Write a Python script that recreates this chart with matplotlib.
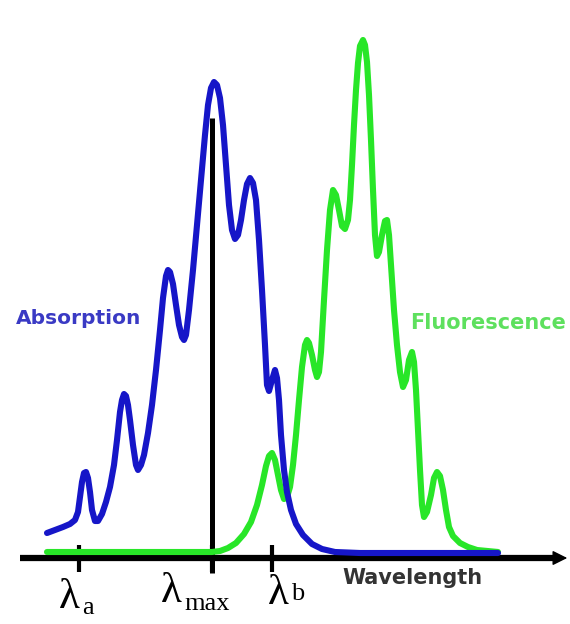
import numpy as np
import matplotlib.pyplot as plt

# Spectra read as (wavelength position, intensity above baseline)
abs_x = [47, 55, 63, 70, 75, 78, 80, 82, 84, 86, 88, 90, 92, 95, 98, 102, 106,
         110, 114, 117, 120, 122, 124, 126, 128, 130, 133, 136, 138, 141, 144,
         148, 152, 156, 160, 163, 166, 168, 170, 173, 176, 179, 182, 184, 186,
         189, 193, 197, 201, 205, 208, 211, 214, 217, 220, 223, 226, 229, 232,
         235, 238, 241, 244, 247, 250, 253, 256, 259, 262, 265, 267, 269, 272,
         275, 277, 279, 281, 284, 287, 291, 296, 303, 312, 322, 335, 360, 400,
         498]
abs_y = [24, 27, 30, 33, 37, 45, 60, 75, 84, 85, 79, 65, 47, 36, 36, 43, 55,
         70, 92, 117, 145, 157, 163, 161, 152, 137, 112, 92, 87, 92, 102,
         124, 152, 187, 227, 259, 281, 287, 285, 273, 252, 232, 220, 217, 222,
         247, 287, 332, 377, 422, 452, 469, 475, 472, 459, 432, 392, 352, 327,
         318, 322, 337, 357, 373, 379, 374, 357, 317, 267, 212, 172, 166, 177,
         187, 179, 157, 122, 87, 65, 47, 33, 22, 13, 8, 5, 4, 4,
         4]

fl_x = [47, 150, 212, 220, 228, 236, 244, 251, 257, 262, 266, 269, 272, 275,
        278, 281, 284, 287, 290, 293, 296, 299, 302, 305, 307, 309, 312, 315,
        317, 319, 321, 324, 327, 330, 333, 336, 339, 342, 345, 348, 350, 352,
        354, 356, 358, 360, 363, 365, 367, 369, 371, 373, 375, 377, 379, 382,
        385, 387, 389, 391, 394, 397, 400, 403, 406, 409, 412, 414, 416, 418,
        420, 422, 424, 427, 431, 434, 437, 440, 443, 446, 449, 453, 460, 468,
        477, 498]
fl_y = [5, 5, 5, 6, 9, 14, 23, 35, 52, 72, 91, 101, 104, 97,
        82, 67, 58, 60, 70, 92, 122, 157, 190, 212, 217, 214, 202, 187,
        180, 185, 205, 257, 307, 347, 367, 362, 347, 331, 328, 337, 357, 392,
        432, 467, 494, 511, 517, 512, 495, 462, 417, 367, 322, 301, 305, 322,
        336, 337, 322, 292, 247, 212, 185, 170, 177, 197, 205, 195, 167, 127,
        87, 52, 40, 45, 62, 79, 85, 81, 67, 47, 30, 21, 14, 10,
        7, 5]

# marked wavelengths on the axis
lam_pos = [79, 212, 272]
lam_sub = ["a", "max", "b"]

blue = "#1616c8"
green = "#28e628"

fig = plt.figure(figsize=(5.7, 6.24), dpi=100)
ax = fig.add_axes([0, 0, 1, 1])
ax.set_xlim(0, 570)
ax.set_ylim(-67, 557)
ax.axis("off")

# vertical marker at the absorption maximum
ax.plot([212, 212], [-16, 439], color="black", lw=3.6, solid_capstyle="butt", zorder=2)

ax.plot(fl_x, fl_y, color=green, lw=4.4, solid_joinstyle="round",
        solid_capstyle="round", zorder=3)
ax.plot(abs_x, abs_y, color=blue, lw=4.4, solid_joinstyle="round",
        solid_capstyle="round", zorder=4)

# wavelength axis with arrow
ax.plot([20, 556], [-1, -1], color="black", lw=4.5, solid_capstyle="butt", zorder=1)
ax.annotate("", xy=(570, -1), xytext=(550, -1),
            arrowprops=dict(arrowstyle="-|>,head_length=0.9,head_width=0.45",
                            color="black", lw=1), zorder=1)

# tick marks and λ labels
lam_left = [58, 160, 267]
lam_top = [-21, -15, -18]
sub_top = [-40, -36, -26]
for x, sub, lx, lt, st in zip(lam_pos, lam_sub, lam_left, lam_top, sub_top):
    ax.plot([x, x], [-15, 12], color="black", lw=3, solid_capstyle="butt", zorder=1)
    ax.text(lx + 1, lt, "λ", fontsize=31, family="Liberation Serif",
            ha="left", va="top")
    ax.text(lx + 24, st, sub, fontsize=19, family="Liberation Serif",
            ha="left", va="top")

ax.text(16, 239, "Absorption", color="#3a3ac4", fontsize=14.5, fontweight="bold",
        family="DejaVu Sans", ha="left", va="center")
ax.text(410, 234, "Fluorescence", color="#5ee05e", fontsize=15, fontweight="bold",
        family="DejaVu Sans", ha="left", va="center")
ax.text(342, -21, "Wavelength", color="#333333", fontsize=15, fontweight="bold",
        family="DejaVu Sans", ha="left", va="center")

fig.savefig("out.png", dpi=100)
